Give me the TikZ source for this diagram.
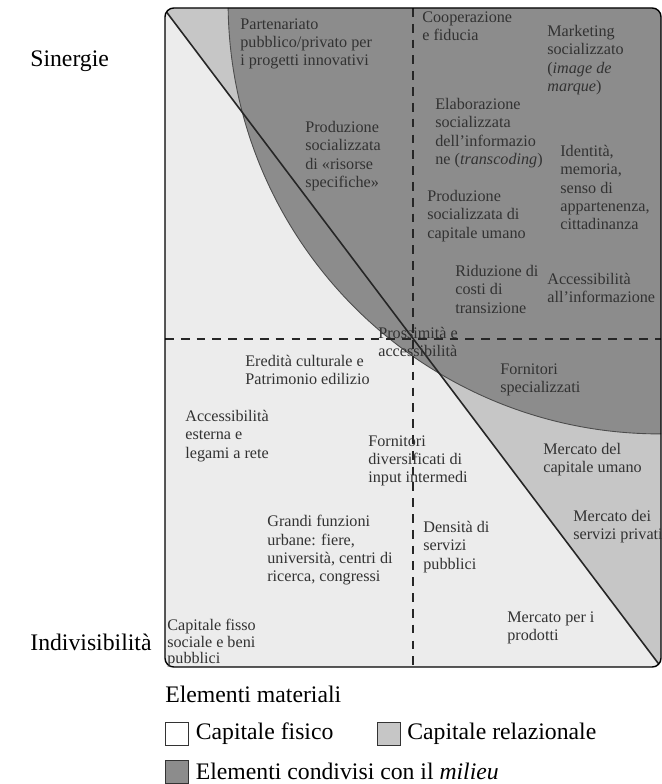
\documentclass[tikz,border=0pt]{standalone}
\usepackage{fontspec}
\setmainfont{Liberation Serif}
\usetikzlibrary{positioning}
\definecolor{fisicocolor}{RGB}{236,236,236}
\definecolor{relazcolor}{RGB}{198,198,198}
\definecolor{milieucolor}{RGB}{140,140,140}
\definecolor{labelcolor}{RGB}{50,50,50}

\begin{document}
\begin{tikzpicture}[
			x=0.02cm, y=-0.02cm,
			zonelabel/.style={
				anchor=north west,
				align=left,
				inner sep=0pt,
				text=labelcolor,
				font=\fontsize{9.2}{10.4}\selectfont
			},
			axislabel/.style={
				anchor=base west,
				inner sep=0pt,
				font=\fontsize{13.5}{16}\selectfont
			},
			legendbox/.style={
				draw=black!80,
				line width=0.5pt,
				minimum width=0.46cm,
				minimum height=0.46cm,
				inner sep=0pt
			},
			legendtext/.style={
				anchor=west,
				inner sep=0pt,
				font=\fontsize{13.5}{16}\selectfont
			},
			splitline/.style={
				dash pattern=on 5pt off 4pt,
				line width=0.7pt,
				draw=black!85
			}
		]
			\useasboundingbox (0,0) rectangle (662,784);
			
			% zones
			\begin{scope}
				\clip[rounded corners=5pt] (165,8) rectangle (661,667);
				\fill[fisicocolor] (165,8) rectangle (661,667);
				\fill[relazcolor] (165,8) -- (165,10) -- (661,667) -- (661,8) -- cycle;
				\fill[milieucolor] (660,2) circle[radius=8.64cm];
				\draw[black!70, line width=0.5pt] (660,2) circle[radius=8.64cm];
				\draw[black!85, line width=0.9pt] (165,10) -- (661,667);
				\draw[splitline] (165,339) -- (661,339);
				\draw[splitline] (413,8) -- (413,667);
			\end{scope}
			\draw[rounded corners=5pt, line width=0.8pt] (165,8) rectangle (661,667);
			
			% axis labels
			\node[axislabel] (sinergie) at (30,67) {Sinergie};
			\node[axislabel] (indivisibilita) at (30,650) {Indivisibilità};
			
			% labels inside the frame
			\node[zonelabel] (partenariato) at (240,18) {Partenariato\\pubblico/privato per\\i progetti innovativi};
			\node[zonelabel] (risorse) at (305,121) {Produzione\\socializzata\\di «risorse\\specifiche»};
			\node[zonelabel] (cooperazione) at (422,11) {Cooperazione\\e fiducia};
			\node[zonelabel] (marketing) at (547,25) {Marketing\\socializzato\\(\textit{image de}\\\textit{marque})};
			\node[zonelabel] (elaborazione) at (435,98) {Elaborazione\\socializzata\\dell'informazio\\ne (\textit{transcoding})};
			\node[zonelabel] (identita) at (560,145) {Identità,\\memoria,\\senso di\\appartenenza,\\cittadinanza};
			\node[zonelabel] (capumano) at (427,190) {Produzione\\socializzata di\\capitale umano};
			\node[zonelabel] (riduzione) at (455,265) {Riduzione di\\costi di\\transizione};
			\node[zonelabel] (accinfo) at (547,273) {Accessibilità\\all'informazione};
			\node[zonelabel] (prossimita) at (378,327) {Prossimità e\\accessibilità};
			\node[zonelabel] (fornspec) at (500,363) {Fornitori\\specializzati};
			\node[zonelabel] (eredita) at (245,355) {Eredità culturale e\\Patrimonio edilizio};
			\node[zonelabel] (accesterna) at (185,410) {Accessibilità\\esterna e\\legami a rete};
			\node[zonelabel] (forndiv) at (368,435) {Fornitori\\diversificati di\\input intermedi};
			\node[zonelabel] (mercumano) at (543,443) {Mercato del\\capitale umano};
			\node[zonelabel] (grandi) at (267,515) {Grandi funzioni\\urbane: fiere,\\università, centri di\\ricerca, congressi};
			\node[zonelabel] (densita) at (423,521) {Densità di\\servizi\\pubblici};
			\node[zonelabel] (mercservizi) at (573,510) {Mercato dei\\servizi privati};
			\node[zonelabel, font=\fontsize{9.2}{9.4}\selectfont] (capfisso) at (167,619) {Capitale fisso\\sociale e beni\\pubblici};
			\node[zonelabel] (mercprodotti) at (507,611) {Mercato per i\\prodotti};
			
			% legend
			\node[axislabel] (materiali) at (165,702) {Elementi materiali};
			\node[legendbox, fill=white] (boxfisico) at (176.5,733.5) {};
			\node[legendtext, right=0.14cm of boxfisico] (fisico) {Capitale fisico};
			\node[legendbox, fill=relazcolor] (boxrelaz) at (389,733.5) {};
			\node[legendtext, right=0.12cm of boxrelaz] (relaz) {Capitale relazionale};
			\node[legendbox, fill=milieucolor] (boxmilieu) at (176.5,771.5) {};
			\node[legendtext, right=0.14cm of boxmilieu] (milieu) {Elementi condivisi con il \textit{milieu}};
			
		\end{tikzpicture}
\end{document}
